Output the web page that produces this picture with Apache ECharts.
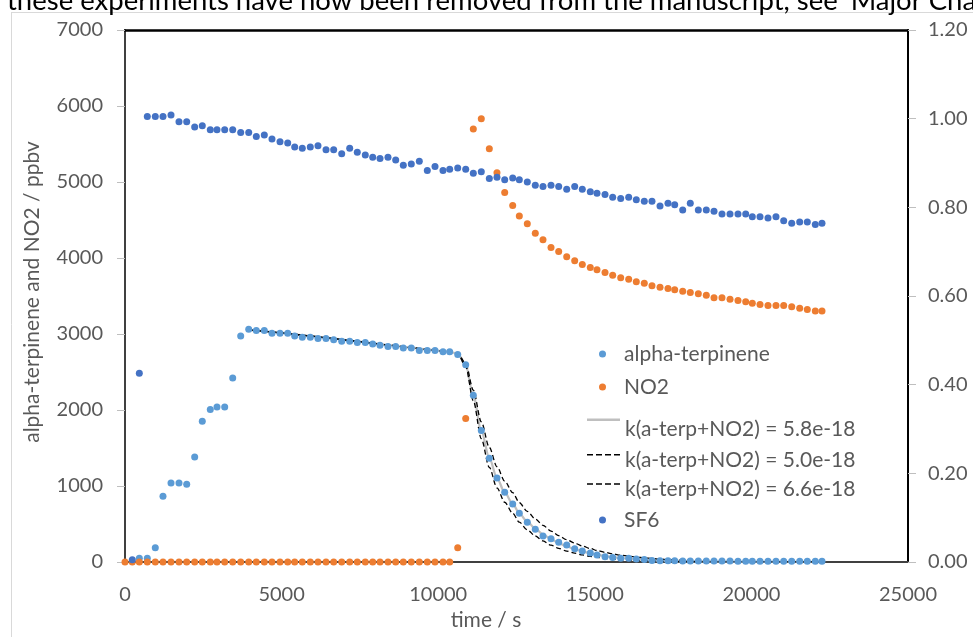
<!DOCTYPE html>
<html><head><meta charset="utf-8">
<script src="https://cdn.jsdelivr.net/npm/echarts@6/dist/echarts.min.js"></script>
<style>html,body{margin:0;padding:0;background:#fff}#c{width:973px;height:637px}</style>
</head><body><div id="c"></div>
<script>
const times = [0,233,457,712,967,1213,1469,1724,1970,2225,2468,2723,2937,3183,3439,3694,3950,4192,4448,4693,4949,5195,5418,5661,5916,6162,6418,6663,6919,7174,7417,7672,7909,8142,8397,8643,8886,9141,9397,9652,9898,10153,10367,10623,10878,11121,11376,11632,11877,12123,12379,12590,12845,13100,13346,13602,13847,14103,14358,14601,14856,15070,15326,15571,15827,16082,16325,16580,16826,17082,17337,17551,17807,18049,18305,18560,18806,19061,19317,19572,19818,20029,20275,20530,20785,21031,21287,21542,21785,22040,22254];

const alphaTerpinene = [null,null,48,48,188,865,1040,1040,1023,1382,1852,2005,2040,2040,2422,2975,3063,3045,3045,3011,3011,3011,2975,2958,2958,2940,2940,2923,2905,2905,2887,2887,2870,2853,2835,2835,2817,2817,2782,2782,2782,2765,2765,2729,2594,2194,1729,1365,1106,918,764,641,523,430,342,307,260,224,175,145,118,92,70,58,49,49,39,32,20,17,15,15,14,14,13,13,12,12,12,11,11,11,10,10,10,10,9,9,9,9,9];

const no2 = [0,0,0,0,0,0,0,0,0,0,0,0,0,0,0,0,0,0,0,0,0,0,0,0,0,0,0,0,0,0,0,0,0,0,0,0,0,0,0,0,0,0,0,188,1887,5696,5832,5437,5121,4862,4691,4551,4450,4327,4239,4138,4085,4015,3963,3914,3874,3844,3809,3774,3739,3722,3686,3669,3634,3616,3598,3581,3564,3545,3528,3511,3476,3476,3458,3440,3423,3406,3387,3374,3374,3374,3357,3340,3322,3304,3304];

const sf6 = [null,0.005,0.426,1.005,1.005,1.005,1.008,0.993,0.993,0.981,0.984,0.975,0.975,0.975,0.975,0.969,0.969,0.960,0.963,0.954,0.948,0.945,0.936,0.933,0.936,0.939,0.930,0.930,0.921,0.933,0.924,0.918,0.913,0.910,0.913,0.907,0.895,0.898,0.904,0.883,0.892,0.883,0.886,0.889,0.886,0.877,0.880,0.865,0.868,0.862,0.866,0.862,0.857,0.850,0.847,0.850,0.847,0.841,0.847,0.841,0.835,0.832,0.829,0.823,0.820,0.823,0.817,0.814,0.814,0.803,0.809,0.806,0.794,0.809,0.794,0.794,0.791,0.785,0.785,0.785,0.785,0.779,0.779,0.776,0.779,0.770,0.764,0.767,0.767,0.761,0.764];

const flat = [3055,3045,3035,3025,3015,3005,2995,2985,2975,2962,2950,2938,2926,2914,2902,2890,2878,2866,2855,2843,2831,2819,2808,2796,2785,2773,2762,2745];
const pre = [null,null,null,null,null,null,null,null,null,null,null,null,null,null,null,null];
const model58 = pre.concat(flat, [2590,2190,1730,1370,1105,915,765,640,530,440,365,300,250,205,170,140,115,95,78,64,52,43,35,29,24,19,16,13,11,9,7,6,5,4,3,3,2,2,2,1,1,1,1,1,1,1,1]);
const model50 = pre.concat(flat, [2612,2261,1844,1508,1253,1065,912,782,665,566,482,407,347,293,249,211,178,151,127,107,90,76,64,54,46,38,32,27,23,19,16,13,11,9,8,7,6,5,4,4,3,3,2,2,2,2,1]);
const model66 = pre.concat(flat, [2568,2123,1622,1245,975,786,642,524,423,342,277,221,180,143,116,93,74,60,48,38,30,24,19,15,12,9,7,6,5,4,3,2,2,1,1,1,1,1,1,1,1,1,1,1,1,1,1]);

const xTicks = [0, 25000, 5000];
const yLeftTicks = [0, 7000, 1000];
const yRightTicks = [0, 1.2, 0.2];

const names = ['alpha-terpinene','NO2','k(a-terp+NO2) = 5.8e-18','k(a-terp+NO2) = 5.0e-18','k(a-terp+NO2) = 6.6e-18','SF6'];

function pairs(vals){ return times.map((t,i)=>[t, vals[i]]); }

const FONT = 'Lato';
const GREY = '#595959';
const chart = echarts.init(document.getElementById('c'), null, {renderer:'canvas'});

const ICON_SOLID = 'path://M0,0L33,0L33,2.5L0,2.5Z M0,22L0.01,22L0.01,21.99Z';
const ICON_DASH = 'path://M0,5L6,5L6,6.5L0,6.5Z M9,5L15,5L15,6.5L9,6.5Z M18,5L24,5L24,6.5L18,6.5Z M27,5L33,5L33,6.5L27,6.5Z M0,0L0.01,0L0.01,0.01Z M0,22L0.01,22L0.01,21.99Z';

function legendAt(name, center, icon, h, left){
  return {
    data:[{name:name, icon:icon}], left:left, top: center-12, orient:'vertical', padding:0,
    itemWidth:33, itemHeight:h, itemGap:4, selectedMode:false,
    textStyle:{fontFamily:FONT, fontSize:21, color:GREY, lineHeight:24}
  };
}

const option = {
  animation:false,
  textStyle:{fontFamily:FONT},
  grid:{left:125, right:65, top:30, bottom:75, containLabel:false},
  xAxis:[{
    type:'value', min:xTicks[0], max:xTicks[1], interval:xTicks[2],
    axisLine:{show:true, onZero:false, lineStyle:{color:'#404040', width:2}},
    axisTick:{show:false}, splitLine:{show:false},
    axisLabel:{color:GREY, fontSize:20, fontFamily:FONT, margin:23, formatter:v=>String(v)}
  },{
    type:'value', position:'top', min:xTicks[0], max:xTicks[1],
    axisLine:{show:true, onZero:false, lineStyle:{color:'#000', width:2.5}},
    axisTick:{show:false}, axisLabel:{show:false}, splitLine:{show:false}
  }],
  yAxis:[{
    type:'value', min:yLeftTicks[0], max:yLeftTicks[1], interval:yLeftTicks[2],
    axisLine:{show:true, onZero:false, lineStyle:{color:'#404040', width:2}},
    axisTick:{show:true, length:8, lineStyle:{color:'#BFBFBF', width:1}},
    splitLine:{show:false},
    axisLabel:{color:GREY, fontSize:20, fontFamily:FONT, margin:22, formatter:v=>String(v)}
  },{
    type:'value', position:'right', min:yRightTicks[0], max:yRightTicks[1], interval:yRightTicks[2],
    axisLine:{show:true, onZero:false, lineStyle:{color:'#000', width:2}},
    axisTick:{show:true, length:8, lineStyle:{color:'#BFBFBF', width:1}},
    splitLine:{show:false},
    axisLabel:{color:GREY, fontSize:20, fontFamily:FONT, margin:20, formatter:v=>v.toFixed(2)}
  }],
  legend:[
    legendAt(names[0], 354, 'circle', 7, 599),
    legendAt(names[1], 387, 'circle', 7, 599),
    legendAt(names[2], 429.5, ICON_SOLID, 22, 587),
    legendAt(names[3], 460, ICON_DASH, 22, 587),
    legendAt(names[4], 489.3, ICON_DASH, 22, 587),
    legendAt(names[5], 520, 'circle', 7, 599)
  ],
  series:[
    {name:names[2], type:'line', data:pairs(model58), symbol:'none', smooth:0.3, smoothMonotone:'x',
      lineStyle:{color:'#BFBFBF', width:2.25}, itemStyle:{color:'#BFBFBF'}, z:2},
    {name:names[3], type:'line', data:pairs(model50), symbol:'none', smooth:0.3, smoothMonotone:'x',
      lineStyle:{color:'#000', width:1.3, type:[5,3]}, itemStyle:{color:'#000'}, z:2},
    {name:names[4], type:'line', data:pairs(model66), symbol:'none', smooth:0.3, smoothMonotone:'x',
      lineStyle:{color:'#000', width:1.3, type:[5,3]}, itemStyle:{color:'#000'}, z:2},
    {name:names[0], type:'scatter', data:pairs(alphaTerpinene), symbolSize:7, itemStyle:{color:'#5B9BD5', opacity:1}, z:3},
    {name:names[1], type:'scatter', data:pairs(no2), symbolSize:7, itemStyle:{color:'#ED7D31', opacity:1}, z:3},
    {name:names[5], type:'scatter', yAxisIndex:1, data:pairs(sf6), symbolSize:7, itemStyle:{color:'#4472C4', opacity:1}, z:3}
  ],
  graphic:[
    {type:'line', shape:{x1:11, y1:12.5, x2:973, y2:12.5}, style:{stroke:'#D9D9D9', lineWidth:1}, silent:true},
    {type:'line', shape:{x1:11.5, y1:12, x2:11.5, y2:637}, style:{stroke:'#D9D9D9', lineWidth:1}, silent:true},
    {type:'text', left:7, top:-13, style:{text:'these experiments have now been removed from the manuscript, see ‘Major Changes’', fontFamily:FONT, fontSize:27.5, fill:'#000'}, silent:true},
    {type:'text', x:486, y:620, style:{text:'time / s', fontFamily:FONT, fontSize:21, fill:GREY, align:'center', verticalAlign:'middle'}, silent:true},
    {type:'text', x:32, y:292, rotation:Math.PI/2, style:{text:'alpha-terpinene and NO2 / ppbv', fontFamily:FONT, fontSize:21, fill:GREY, align:'center', verticalAlign:'middle'}, silent:true}
  ]
};
chart.setOption(option);
</script></body></html>
